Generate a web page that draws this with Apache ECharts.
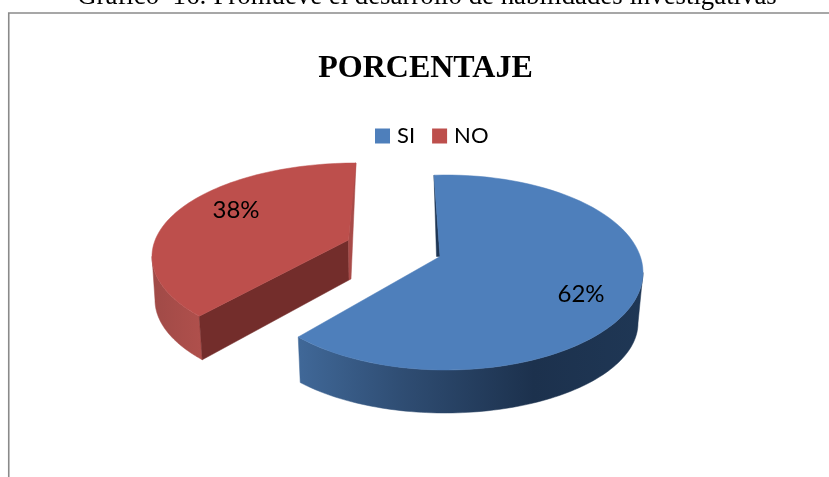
<!DOCTYPE html>
<html><head><meta charset="utf-8">
<style>html,body{margin:0;padding:0;background:#fff;overflow:hidden}#c{width:829px;height:477px}</style>
<script src="https://cdn.jsdelivr.net/npm/echarts@6/dist/echarts.min.js"></script>
</head><body><div id="c"></div>
<script>
const categories = ['SI', 'NO'];
const values = [62, 38];
const captionText = 'Grafico  16: Promueve el desarrollo de habilidades investigativas';
const titleText = 'PORCENTAJE';

const total = values.reduce((a, b) => a + b, 0);
// Perspective view of each exploded slice: top rim ellipse, lower rim ellipse, apex, slight angular warp.
const views = [
  { ex: 446, ey: 272.5, rx: 197, ry: 97.5, bx: 445, by: 323, brx: 193, bry: 90,
    ax: 440, ay: 256.5, w0: -3.5, w1: 5.4, top: '#4e7fbb', label: [581, 294] },
  { ex: 356, ey: 256.4, rx: 204, ry: 93.4, bx: 359, by: 300, brx: 204, bry: 93.4,
    ax: 348.5, ay: 240, w0: 7, w1: 0, top: '#bd4f4c', label: [236, 210] }
];
const deg = Math.PI / 180;
const rim = (v, t) => [v.ex + v.rx * Math.sin(t * deg), v.ey - v.ry * Math.cos(t * deg)];
const low = (v, t) => [v.bx + v.brx * Math.sin(t * deg), v.by - v.bry * Math.cos(t * deg)];
const grad = (x0, x1, stops) => new echarts.graphic.LinearGradient(x0, 0, x1, 0,
  stops.map(s => ({ offset: s[0], color: s[1] })), true);

function item(params, api) {
  const idx = params.seriesIndex;
  const v = views[idx];
  let before = 0;
  for (let i = 0; i < idx; i++) before += values[i];
  const phi0 = before / total * 360;
  const phi1 = (before + api.value(0)) / total * 360;
  const t0 = phi0 + v.w0, t1 = phi1 + v.w1;
  const arc = (f, a, b) => { const p = []; const n = 90; for (let i = 0; i <= n; i++) p.push(f(v, a + (b - a) * i / n)); return p; };
  const poly = (points, fill) => ({ type: 'polygon', shape: { points }, style: { fill, stroke: fill, lineWidth: 0.5 } });
  const children = [];
  const topFace = [[v.ax, v.ay]].concat(arc(rim, t0, t1));
  if (idx === 0) {
    const wallPts = arc(rim, 90, t1).concat(arc(low, 90, t1).reverse());
    children.push(poly(wallPts, grad(298, 645, [[0, '#406898'], [0.3, '#2f4d73'], [0.68, '#1c314d'], [1, '#1f3755']])));
    const s = rim(v, t0);
    children.push(poly([s, [v.ax - 3.5, v.ay], [v.ax, v.ay]], '#1e3655'));
  } else {
    const wallPts = arc(rim, t0, 270).concat(arc(low, t0, 270).reverse());
    children.push(poly(wallPts, grad(152, 204, [[0, '#a04a47'], [1, '#b0504c']])));
    const a = [v.ax, v.ay], s = rim(v, t0), e = rim(v, t1);
    const aLow = [v.ax + 0.5, v.ay + 40];
    children.push(poly([a, s, low(v, t0), aLow], '#732d2b'));
    children.push(poly([a, [e[0] - 1, e[1]], e, [v.ax + 2.5, v.ay + 39], aLow], '#a84b48'));
  }
  children.push(poly(topFace, v.top));
  children.push({
    type: 'text',
    style: {
      text: Math.round(api.value(0) / total * 100) + '%',
      x: v.label[0], y: v.label[1], align: 'center', verticalAlign: 'middle',
      font: '24px Lato', fill: '#000'
    }
  });
  return { type: 'group', children };
}

const chart = echarts.init(document.getElementById('c'), null, { renderer: 'canvas' });
chart.setOption({
  animation: false,
  backgroundColor: '#fff',
  title: [
    { text: captionText, left: 422, top: -21.5, textAlign: 'center',
      textStyle: { fontFamily: 'Liberation Serif', fontWeight: 'normal', fontSize: 26.8, color: '#000' } },
    { text: titleText, left: 420.5, top: 48, textAlign: 'center',
      textStyle: { fontFamily: 'Liberation Serif', fontWeight: 'bold', fontSize: 32, color: '#000' } }
  ],
  legend: {
    data: categories, left: 370, top: 120, itemWidth: 15, itemHeight: 15, itemGap: 17, icon: 'rect',
    textStyle: { fontFamily: 'Lato', fontSize: 22, color: '#000', padding: [0, 0, 0, 2] }
  },
  color: ['#4f81bd', '#c0504d'],
  graphic: [
    { type: 'polyline', silent: true, shape: { points: [[8.75, 477], [8.75, 13], [829, 13]] },
      style: { stroke: '#8a8a8a', lineWidth: 1.6, fill: null } }
  ],
  series: categories.map((name, i) => ({
    type: 'custom', name, coordinateSystem: 'none', data: [[values[i]]],
    renderItem: item, itemStyle: { color: views[i].top }, silent: true
  }))
});
</script></body></html>
